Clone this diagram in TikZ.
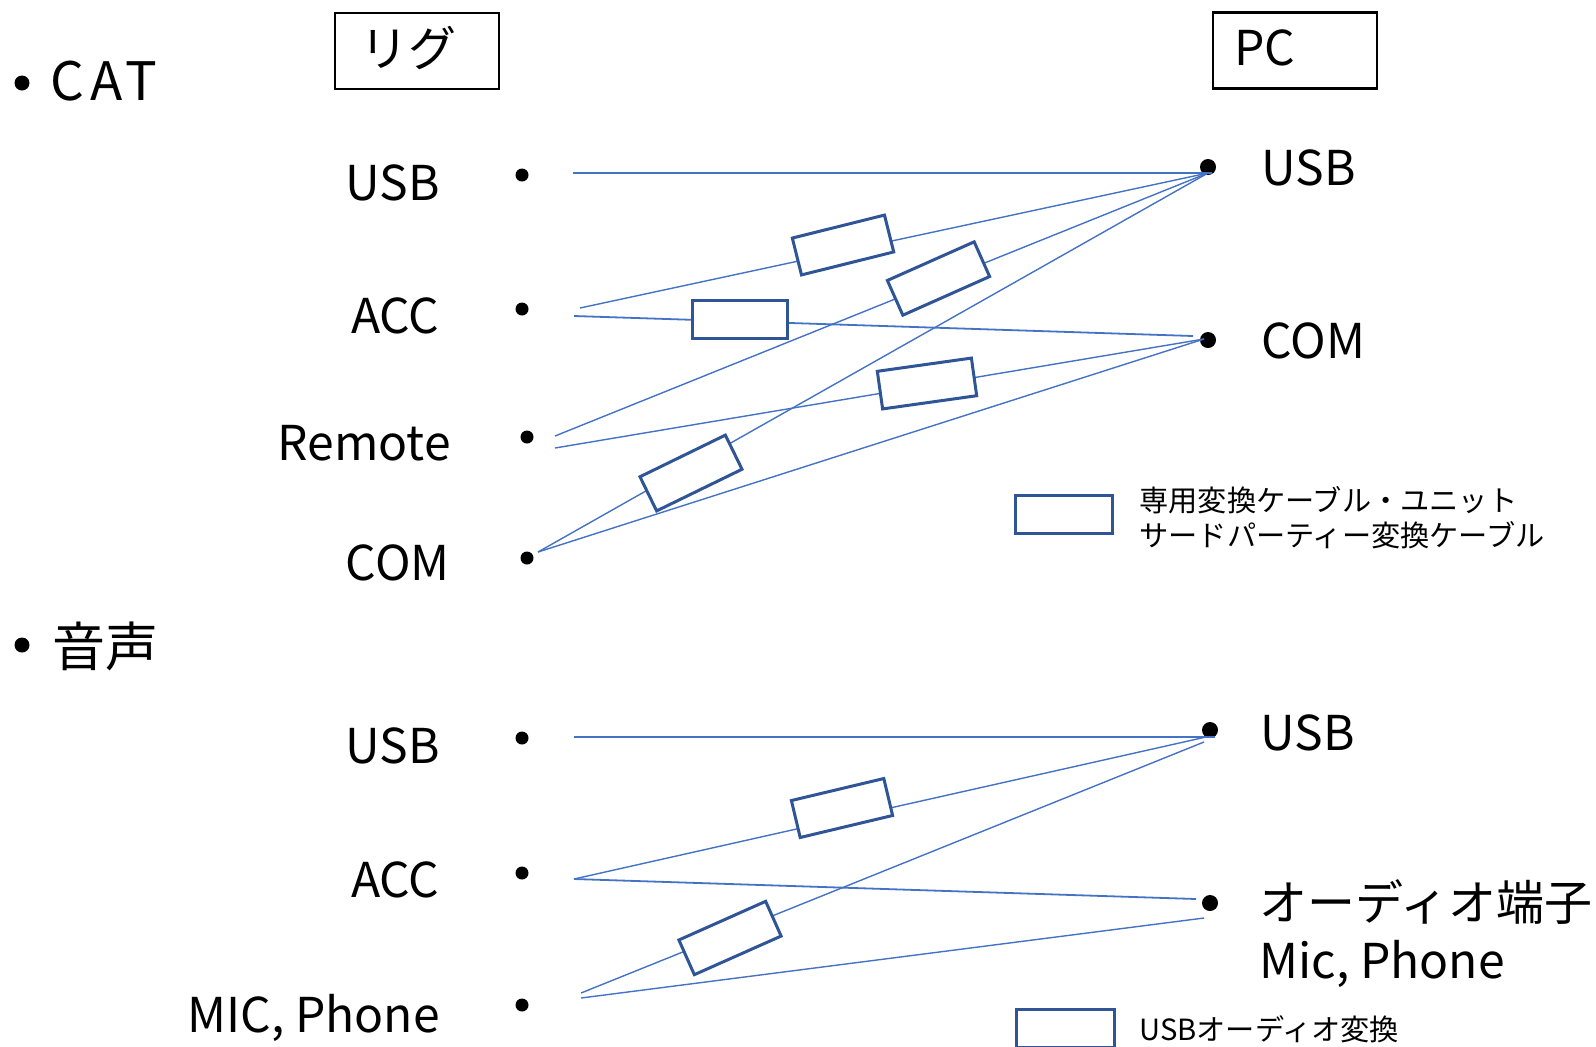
\documentclass[tikz,border=0pt]{standalone}
\usepackage{fontspec}
\setmainfont{Noto Sans CJK JP}
\definecolor{wireblue}{HTML}{4472C4}
\definecolor{boxblue}{HTML}{2F5597}
\begin{document}
\begin{tikzpicture}[x=0.5pt,y=-0.5pt,
  wire/.style={draw=wireblue, line width=0.7pt},
  mainwire/.style={draw=wireblue, line width=1.2pt},
  convbox/.style={draw=boxblue, line width=1.5pt, fill=white, minimum width=47.5pt, minimum height=19pt, inner sep=0pt},
  dev/.style={draw=black, line width=1.4pt, minimum width=82pt, minimum height=38pt, inner sep=0pt},
  rigdot/.style={circle, fill=black, inner sep=0pt, minimum size=6.5pt},
  pcdot/.style={circle, fill=black, inner sep=0pt, minimum size=8pt},
  bullet/.style={circle, fill=black, inner sep=0pt, minimum size=7.5pt},
  lbl/.style={font=\fontsize{24}{28}\selectfont, inner sep=0pt},
  head/.style={font=\fontsize{26.5}{30}\selectfont, inner sep=0pt},
  legendtext/.style={font=\fontsize{14.6}{17.5}\selectfont, inner sep=0pt, align=left}]
\useasboundingbox (0,0) rectangle (1596,1046);

% headings
\node[bullet] (b1) at (22,83) {};
\node[head, anchor=base west] (cat) at (50,100) {\addfontfeature{LetterSpace=12}CAT};
\node[bullet] (b2) at (22,645) {};
\node[head, anchor=west] (voice) at (52,646) {音声};

% device boxes
\node[dev] (rig) at (417,51) {};
\node[lbl, anchor=west] (rigtxt) at (360,47.5) {リグ};
\node[dev] (pc) at (1295,50.5) {};
\node[lbl, anchor=base west] (pctxt) at (1234,65) {PC};

% ---------- CAT ----------
\node[lbl, anchor=base east] (rusbl) at (440,200) {USB};
\node[lbl, anchor=base east] (raccl) at (440,333) {ACC};
\node[lbl, anchor=base east] (rreml) at (451,460) {Remote};
\node[lbl, anchor=base east] (rcoml) at (450,580) {COM};
\node[rigdot] (rusb) at (522,175) {};
\node[rigdot] (racc) at (522,309) {};
\node[rigdot] (rrem) at (527,437) {};
\node[rigdot] (rcom) at (527,558) {};

\node[pcdot] (pusb) at (1208,167) {};
\node[pcdot] (pcom) at (1208,340) {};
\node[lbl, anchor=base west] (pusbl) at (1261,185) {USB};
\node[lbl, anchor=base west] (pcoml) at (1261,358) {COM};

\coordinate (u0) at (573,173);
\coordinate (u1) at (1212,173);
\coordinate (a1) at (580,308);
\coordinate (a2) at (574,316);
\coordinate (m1) at (555,436);
\coordinate (m2) at (555,448);
\coordinate (c0) at (538,552);
\coordinate (pu) at (1208,173);
\coordinate (pc1) at (1193,336);
\coordinate (pc2) at (1204,339);

% cables (converter units are laid over them)
\draw[mainwire] (u0) -- (u1);
\draw[wire] (a1) -- (pu);
\draw[wire, line width=0.9pt] (a2) -- (pc1);
\draw[wire] (m1) -- (pu);
\draw[wire] (m2) -- (pc2);
\draw[wire] (c0) -- (pu);
\draw[wire] (c0) -- (pc2);

\node[convbox, rotate=14] (cv1) at (843,245) {};
\node[convbox] (cv2) at (739.5,319.5) {};
\node[convbox, rotate=24] (cv3) at (938.5,278.5) {};
\node[convbox, rotate=8] (cv4) at (927,383.5) {};
\node[convbox, rotate=26] (cv5) at (691,473) {};

% legend
\node[convbox, minimum width=48.5pt] (leg1) at (1063.5,514) {};
\node[legendtext, anchor=west] (leg1t) at (1139,517.5) {専用変換ケーブル・ユニット\\サードパーティー変換ケーブル};

% ---------- 音声 ----------
\node[lbl, anchor=base east] (vusbl) at (440,763) {USB};
\node[lbl, anchor=base east] (vaccl) at (440,897) {ACC};
\node[lbl, anchor=base east] (vmicl) at (440,1032) {MIC, Phone};
\node[rigdot] (vusb) at (522,738) {};
\node[rigdot] (vacc) at (522,873) {};
\node[rigdot] (vmic) at (522,1005) {};

\node[pcdot] (qusb) at (1210,730) {};
\node[pcdot] (qaud) at (1210,903) {};
\node[lbl, anchor=base west] (qusbl) at (1260,750) {USB};
\node[lbl, anchor=west] (qaudl) at (1259,902) {オーディオ端子};
\node[lbl, anchor=base west] (qmicl) at (1259,978) {Mic, Phone};

\coordinate (vu0) at (574,737);
\coordinate (vu1) at (1215,737);
\coordinate (va) at (574,879);
\coordinate (qu1) at (1206,737);
\coordinate (qu2) at (1204,742);
\coordinate (qa1) at (1196,899);
\coordinate (qa2) at (1204,918);
\coordinate (vm1) at (581,993);
\coordinate (vm2) at (581,998);

\draw[mainwire] (vu0) -- (vu1);
\draw[wire] (va) -- (qu1);
\draw[wire, line width=0.9pt] (va) -- (qa1);
\draw[wire] (vm1) -- (qu2);
\draw[wire] (vm2) -- (qa2);

\node[convbox, rotate=13.4] (cv6) at (842,808) {};
\node[convbox, rotate=24] (cv7) at (730,938) {};

% legend
\node[convbox, minimum width=49pt, anchor=north west] (leg2) at (1015,1008) {};
\node[legendtext, anchor=west] (leg2t) at (1139,1029) {USBオーディオ変換};
\end{tikzpicture}
\end{document}
